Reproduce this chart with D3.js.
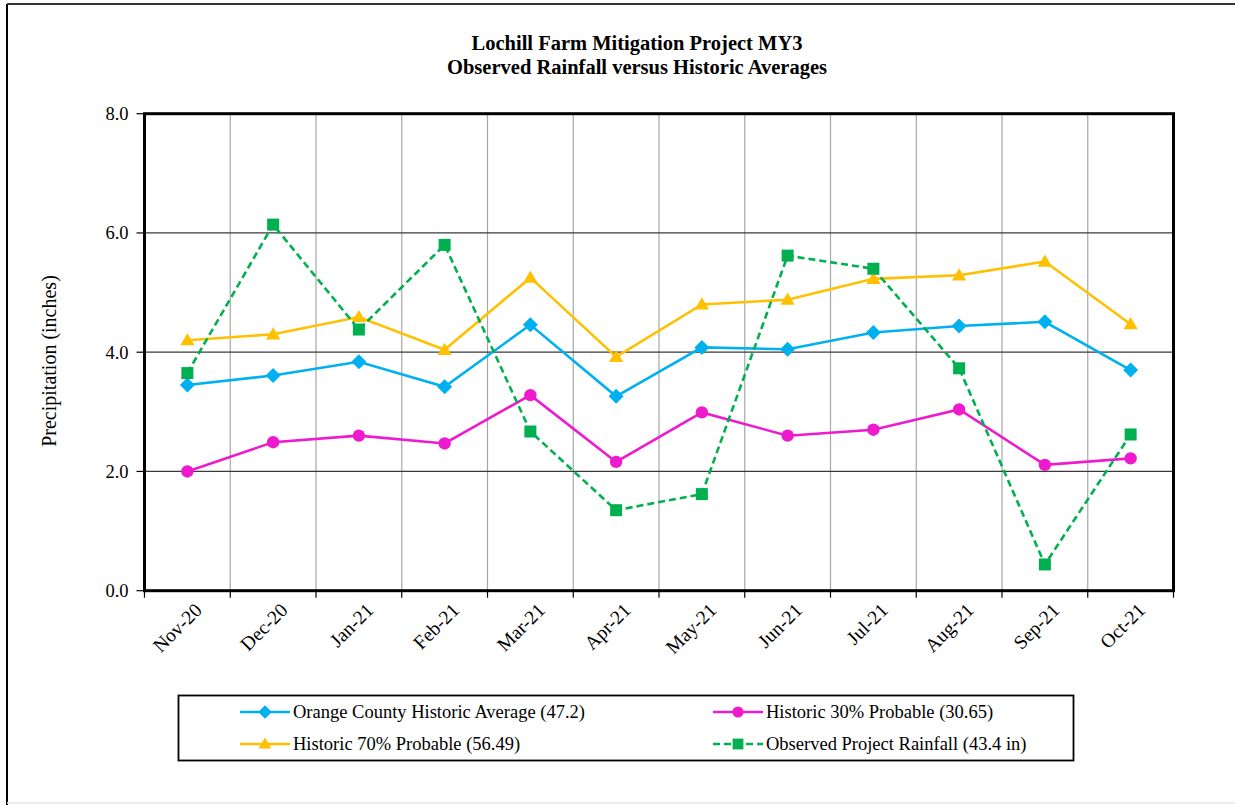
<!DOCTYPE html>
<html>
<head>
<meta charset="utf-8">
<script src="https://cdn.jsdelivr.net/npm/d3@7"></script>
<style>
  body { margin: 0; background: #fff; }
  svg { display: block; font-family: "Liberation Serif", "Times New Roman", serif; }
</style>
</head>
<body>
<svg id="chart" width="1235" height="805" viewBox="0 0 1235 805"></svg>
<script>
// month labels
const months = ["Nov-20", "Dec-20", "Jan-21", "Feb-21", "Mar-21", "Apr-21",
                "May-21", "Jun-21", "Jul-21", "Aug-21", "Sep-21", "Oct-21"];

// series values (inches)
const historicAvg = [3.45, 3.61, 3.84, 3.42, 4.46, 3.26, 4.08, 4.05, 4.33, 4.44, 4.51, 3.70];
const prob30 = [2.00, 2.49, 2.60, 2.47, 3.28, 2.16, 2.99, 2.60, 2.70, 3.04, 2.11, 2.22];
const prob70 = [4.20, 4.30, 4.59, 4.04, 5.25, 3.92, 4.80, 4.88, 5.23, 5.29, 5.52, 4.47];
const observed = [3.65, 6.14, 4.38, 5.80, 2.67, 1.35, 1.62, 5.62, 5.40, 3.73, 0.44, 2.62];

const yTicks = [0, 2, 4, 6, 8];

const series = [
  { name: "Orange County Historic Average (47.2)", values: historicAvg, color: "#00B0F0", marker: "diamond", dash: null },
  { name: "Historic 30% Probable (30.65)", values: prob30, color: "#EE1ACD", marker: "circle", dash: null },
  { name: "Historic 70% Probable (56.49)", values: prob70, color: "#FFC000", marker: "triangle", dash: null },
  { name: "Observed Project Rainfall (43.4 in)", values: observed, color: "#00B050", marker: "square", dash: "7,4" }
];

const svg = d3.select("#chart");

// outer frame
svg.append("line").attr("x1", 7).attr("x2", 7).attr("y1", 4).attr("y2", 805)
  .attr("stroke", "#000").attr("stroke-width", 2);
svg.append("line").attr("x1", 7).attr("x2", 1235).attr("y1", 4).attr("y2", 4)
  .attr("stroke", "#333").attr("stroke-width", 2);
svg.append("line").attr("x1", 7).attr("x2", 1235).attr("y1", 803).attr("y2", 803)
  .attr("stroke", "#e4e4e4").attr("stroke-width", 1.5);

// title
const title = svg.append("text")
  .attr("text-anchor", "middle")
  .attr("font-weight", "bold")
  .attr("font-size", 20.5);
title.append("tspan").attr("x", 637).attr("y", 50).text("Lochill Farm Mitigation Project MY3");
title.append("tspan").attr("x", 637).attr("y", 74).text("Observed Rainfall versus Historic Averages");

const plot = { left: 144.5, right: 1173.5, top: 113.7, bottom: 590.7 };

const x = d3.scaleBand()
  .domain(months)
  .range([plot.left, plot.right]);

const y = d3.scaleLinear()
  .domain([0, 8])
  .range([plot.bottom, plot.top]);

const xc = m => x(m) + x.bandwidth() / 2;

// vertical gridlines at band boundaries
const bounds = months.map(m => x(m)).concat([plot.right]);
svg.append("g")
  .selectAll("line")
  .data(bounds.slice(1, -1))
  .join("line")
  .attr("x1", d => d).attr("x2", d => d)
  .attr("y1", plot.top).attr("y2", plot.bottom)
  .attr("stroke", "#a6a6a6").attr("stroke-width", 1.2);

// horizontal gridlines
svg.append("g")
  .selectAll("line")
  .data(yTicks.slice(1, -1))
  .join("line")
  .attr("x1", plot.left).attr("x2", plot.right)
  .attr("y1", d => y(d)).attr("y2", d => y(d))
  .attr("stroke", "#3a3a3a").attr("stroke-width", 1.2);

// plot border
svg.append("rect")
  .attr("x", plot.left).attr("y", plot.top)
  .attr("width", plot.right - plot.left).attr("height", plot.bottom - plot.top)
  .attr("fill", "none").attr("stroke", "#000").attr("stroke-width", 3);

// y axis ticks and labels
const yAxis = svg.append("g");
yAxis.selectAll("line")
  .data(yTicks)
  .join("line")
  .attr("x1", plot.left - 8).attr("x2", plot.left)
  .attr("y1", d => y(d)).attr("y2", d => y(d))
  .attr("stroke", "#000").attr("stroke-width", 1.2);
yAxis.selectAll("text")
  .data(yTicks)
  .join("text")
  .attr("x", plot.left - 16)
  .attr("y", d => y(d))
  .attr("dy", "0.35em")
  .attr("text-anchor", "end")
  .attr("font-size", 18.5)
  .text(d => d.toFixed(1));

svg.append("text")
  .attr("transform", "translate(56, 361) rotate(-90)")
  .attr("text-anchor", "middle")
  .attr("font-size", 20)
  .text("Precipitation (inches)");

// x axis ticks and labels
svg.append("g")
  .selectAll("line")
  .data(bounds)
  .join("line")
  .attr("x1", d => d).attr("x2", d => d)
  .attr("y1", plot.bottom).attr("y2", plot.bottom + 7)
  .attr("stroke", "#000").attr("stroke-width", 1.2);

svg.append("g")
  .selectAll("text")
  .data(months)
  .join("text")
  .attr("transform", d => `translate(${xc(d) + 6}, ${plot.bottom + 11}) rotate(-45)`)
  .attr("text-anchor", "end")
  .attr("dy", "0.7em")
  .attr("font-size", 19.5)
  .text(d => d);

// marker drawing
function drawMarker(g, type, color, size) {
  if (type === "diamond") {
    const s = size * 0.75;
    g.append("path").attr("d", `M0,${-s}L${s},0L0,${s}L${-s},0Z`).attr("fill", color);
  } else if (type === "circle") {
    g.append("circle").attr("r", size * 0.62).attr("fill", color);
  } else if (type === "triangle") {
    const s = size * 0.68;
    g.append("path").attr("d", `M0,${-s * 1.05}L${s * 1.05},${s * 0.75}L${-s * 1.05},${s * 0.75}Z`).attr("fill", color);
  } else {
    const s = size * 0.6;
    g.append("rect").attr("x", -s).attr("y", -s).attr("width", 2 * s).attr("height", 2 * s).attr("fill", color);
  }
}

const line = d3.line()
  .x((d, i) => xc(months[i]))
  .y(d => y(d));

series.forEach(s => {
  svg.append("path")
    .datum(s.values)
    .attr("d", line)
    .attr("fill", "none")
    .attr("stroke", s.color)
    .attr("stroke-width", 2.6)
    .attr("stroke-dasharray", s.dash);
  svg.append("g")
    .selectAll("g")
    .data(s.values)
    .join("g")
    .attr("transform", (d, i) => `translate(${xc(months[i])},${y(d)})`)
    .each(function () { drawMarker(d3.select(this), s.marker, s.color, 10); });
});

// legend
const legend = svg.append("g");
legend.append("rect")
  .attr("x", 178.5).attr("y", 695.5).attr("width", 895).attr("height", 65)
  .attr("fill", "#fff").attr("stroke", "#000").attr("stroke-width", 1.8);

const legendPos = [
  { x: 240, y: 712 }, { x: 713, y: 712 },
  { x: 240, y: 744 }, { x: 713, y: 744 }
];
series.forEach((s, i) => {
  const p = legendPos[i];
  const item = legend.append("g").attr("transform", `translate(${p.x},${p.y})`);
  item.append("line")
    .attr("x1", 0).attr("x2", 50).attr("y1", 0).attr("y2", 0)
    .attr("stroke", s.color).attr("stroke-width", 2.6)
    .attr("stroke-dasharray", s.dash);
  drawMarker(item.append("g").attr("transform", "translate(25,0)"), s.marker, s.color, 9);
  item.append("text")
    .attr("x", 53).attr("y", 0).attr("dy", "0.35em")
    .attr("font-size", 18.5)
    .text(s.name);
});
</script>
</body>
</html>
